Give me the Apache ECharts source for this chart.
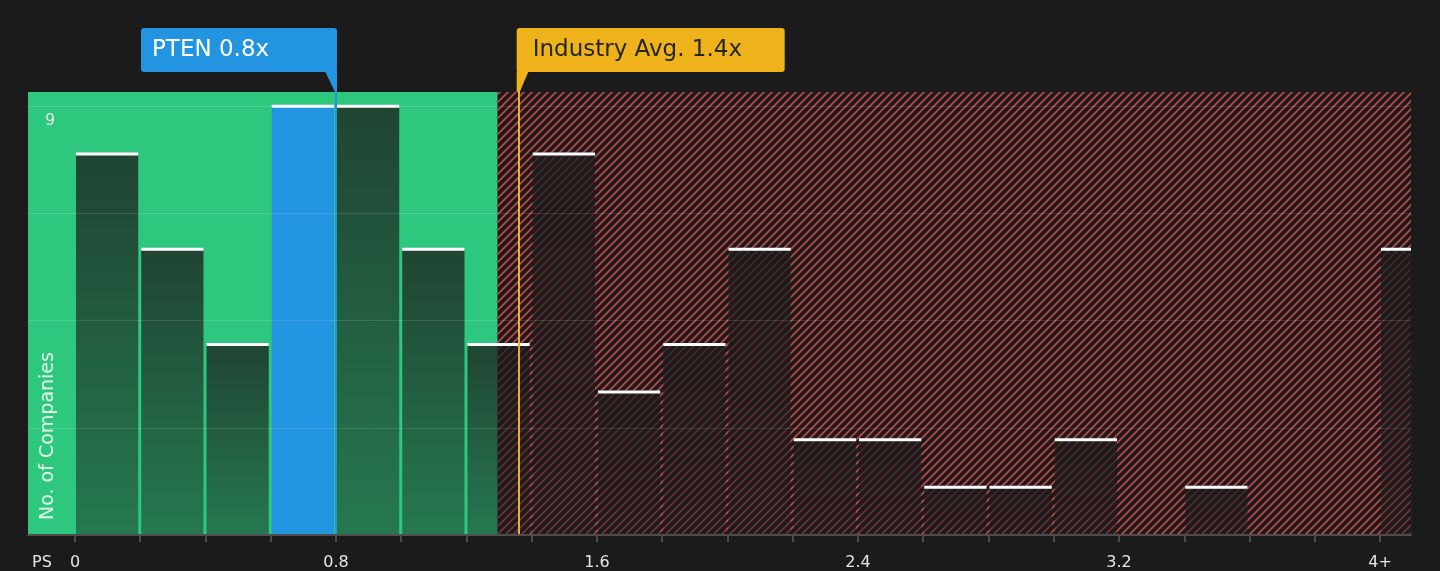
<html><head lang="en">
<meta charset="utf-8">
<title>PTEN PS</title>
<script src="https://cdn.jsdelivr.net/npm/echarts@6/dist/echarts.min.js"></script>
<style>
  html, body { margin: 0; padding: 0; background: #1b1b1b; }
  #main { width: 1440px; height: 571px; }
</style>
</head>
<body>
<div id="main"></div>
<script>
// bins of the PS ratio, 0.2 wide, last one is "4+"
var binStarts = [0, 0.2, 0.4, 0.6, 0.8, 1.0, 1.2, 1.4, 1.6, 1.8, 2.0, 2.2, 2.4, 2.6, 2.8, 3.0, 3.2, 3.4, 3.6, 3.8, 4.0];
var counts    = [8, 6, 4, 9, 9, 6, 4, 8, 3, 4, 6, 2, 2, 1, 1, 2, 0, 1, 0, 0, 6];
var binWidth = 0.2;
var highlightBin = 3;          // the bin PTEN falls in
var tickValues = [0, 0.8, 1.6, 2.4, 3.2, 4];
var tickLabels = ['0', '0.8', '1.6', '2.4', '3.2', '4+'];
var gridValues = [2.25, 4.5, 6.75, 9];
var ptenValue = 0.8;
var industryAvg = 1.36;
var fairLimit = 1.295;         // green zone ends here
var xMin = -0.144, xMax = 4.095, yMax = 9.3;

var FONT = 'DejaVu Sans';

// red diagonal hatch
var tile = document.createElement('canvas');
tile.width = 8; tile.height = 8;
var c = tile.getContext('2d');
c.strokeStyle = '#c4474a';
c.lineWidth = 1.7;
c.beginPath();
c.moveTo(0, 8); c.lineTo(8, 0);
c.moveTo(-1, 1); c.lineTo(1, -1);
c.moveTo(7, 9); c.lineTo(9, 7);
c.stroke();

var myChart = echarts.init(document.getElementById('main'));

var barData = binStarts.map(function (s, i) { return [s, counts[i]]; });

var option = {
    backgroundColor: '#1b1b1b',
    animation: false,
    grid: { left: 28, right: 29, top: 92, bottom: 36 },
    xAxis: {
        type: 'value',
        min: xMin,
        max: xMax,
        z: 10,
        splitLine: { show: false },
        axisLine: { lineStyle: { color: '#4d4d4d', width: 2 } },
        axisTick: { show: true, length: 7, customValues: binStarts, lineStyle: { color: '#4d4d4d', width: 2 } },
        axisLabel: {
            customValues: tickValues,
            margin: 20,
            color: '#e6e6e6',
            fontFamily: FONT,
            fontSize: 16,
            formatter: function (v) {
                for (var i = 0; i < tickValues.length; i++) {
                    if (Math.abs(tickValues[i] - v) < 1e-6) return tickLabels[i];
                }
                return '';
            }
        }
    },
    yAxis: {
        type: 'value',
        min: 0,
        max: yMax,
        z: 10,
        splitLine: { show: false },
        axisLine: { show: false },
        axisTick: { show: false },
        axisLabel: {
            customValues: [9],
            inside: true,
            margin: 17,
            verticalAlign: 'top',
            padding: [7, 0, 0, 0],
            color: '#e6e6e6',
            fontFamily: FONT,
            fontSize: 16
        }
    },
    series: [
        {
            // zones
            type: 'line',
            data: [],
            z: 1,
            markArea: {
                silent: true,
                label: { show: false },
                data: [
                    [{ xAxis: xMin, yAxis: 0, itemStyle: { color: '#2ec77e' } }, { xAxis: fairLimit, yAxis: yMax }],
                    [{ xAxis: fairLimit, yAxis: 0, itemStyle: { color: { image: tile, repeat: 'repeat' } } }, { xAxis: xMax, yAxis: yMax }]
                ]
            }
        },
        {
            // grid lines + PTEN / industry lines
            type: 'line',
            data: [],
            z: 2,
            markLine: {
                silent: true,
                symbol: 'none',
                label: { show: false },
                data: gridValues.map(function (v) {
                    return { yAxis: v, lineStyle: { color: 'rgba(255,255,255,0.12)', width: 1, type: 'solid' } };
                }).concat([
                    { xAxis: ptenValue, lineStyle: { color: '#2394e0', width: 2, type: 'solid' } },
                    { xAxis: industryAvg, lineStyle: { color: '#eeb31b', width: 2, type: 'solid' } }
                ])
            }
        },
        {
            type: 'custom',
            z: 3,
            clip: true,
            data: barData,
            renderItem: function (params, api) {
                var start = api.value(0), v = api.value(1);
                if (!v) return null;
                var p0 = api.coord([start, v]);
                var p1 = api.coord([start + binWidth, 0]);
                var left = p0[0] + 1, right = p1[0] - 2;
                var top = p0[1], bottom = p1[1];
                var fill = params.dataIndex === highlightBin ? '#2394e0' :
                    new echarts.graphic.LinearGradient(0, 0, 0, 1, [
                        { offset: 0, color: 'rgba(27,27,27,0.76)' },
                        { offset: 1, color: 'rgba(27,27,27,0.46)' }
                    ]);
                return {
                    type: 'group',
                    children: [
                        { type: 'rect', shape: { x: left, y: top, width: right - left, height: bottom - top }, style: { fill: fill } },
                        { type: 'rect', shape: { x: left, y: top - 1.5, width: right - left, height: 3 }, style: { fill: '#ffffff' } }
                    ]
                };
            }
        }
    ]
};

myChart.setOption(option);

// callout boxes, placed from the axis scale
var px = myChart.convertToPixel({ xAxisIndex: 0 }, ptenValue);
var ix = myChart.convertToPixel({ xAxisIndex: 0 }, industryAvg);
var topY = myChart.convertToPixel({ yAxisIndex: 0 }, yMax);

myChart.setOption({
    graphic: [
        { type: 'rect', z: 100, shape: { x: px - 195, y: 28, width: 196, height: 44, r: 3 }, style: { fill: '#2394e0' } },
        { type: 'polygon', z: 100, shape: { points: [[px - 11, 71], [px + 1, 71], [px + 1, topY], [px - 1, topY]] }, style: { fill: '#2394e0' } },
        { type: 'text', z: 101, x: px - 184, y: 50, style: { text: 'PTEN 0.8x', fill: '#ffffff', font: '23px "' + FONT + '"', textVerticalAlign: 'middle' } },

        { type: 'rect', z: 100, shape: { x: ix - 2, y: 28, width: 268, height: 44, r: 3 }, style: { fill: '#eeb31b' } },
        { type: 'polygon', z: 100, shape: { points: [[ix - 2, 71], [ix + 10, 71], [ix + 1, topY], [ix - 2, topY]] }, style: { fill: '#eeb31b' } },
        { type: 'text', z: 101, x: ix + 14, y: 50, style: { text: 'Industry Avg. 1.4x', fill: '#262626', font: '23px "' + FONT + '"', textVerticalAlign: 'middle' } },

        { type: 'text', z: 101, x: 42, y: 563, style: { text: 'PS', fill: '#e6e6e6', font: '16px "' + FONT + '"', textAlign: 'center', textVerticalAlign: 'middle' } },
        { type: 'text', z: 101, x: 48, y: 520, rotation: Math.PI / 2, style: { text: 'No. of Companies', fill: 'rgba(255,255,255,0.85)', font: '19px "' + FONT + '"', textAlign: 'left', textVerticalAlign: 'middle' } }
    ]
});
</script>
</body>
</html>
